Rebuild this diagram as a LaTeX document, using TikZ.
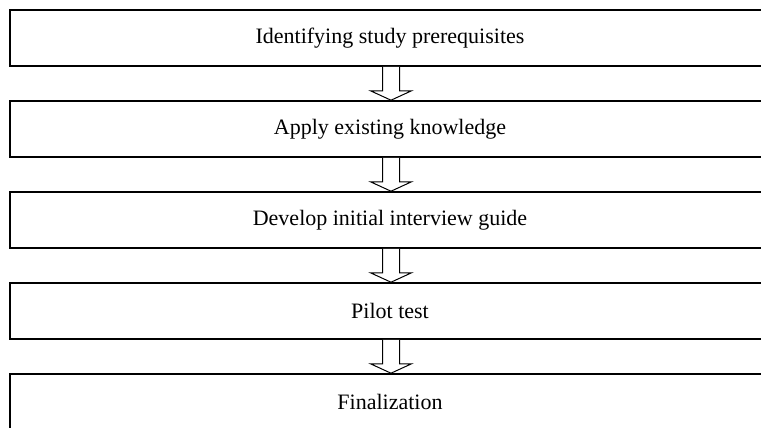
\documentclass[tikz,border=0pt]{standalone}
\usepackage{fontspec}
\setmainfont{Liberation Serif}
\usetikzlibrary{calc}

\begin{document}
\begin{tikzpicture}[x=1pt,y=-1pt,every node/.style={font=\fontsize{22}{26}\selectfont},stage/.style={rectangle,draw=black,line width=1.6pt,minimum width=760pt,minimum height=56pt,inner sep=0pt},blockarrow/.style={draw=black,fill=white,line width=1pt,line join=miter}]
  \useasboundingbox (0,0) rectangle (761,428);
  \begin{scope}
  \clip (0,0) rectangle (761,428);
  \node[stage] (s1) at (390,38) {Identifying study prerequisites};
  \node[stage] (s2) at (390,129) {Apply existing knowledge};
  \node[stage] (s3) at (390,220) {Develop initial interview guide};
  \node[stage] (s4) at (390,311) {Pilot test};
  \node[stage] (s5) at (390,402) {Finalization};
  \end{scope}
  \foreach \a/\b in {s1/s2,s2/s3,s3/s4,s4/s5}{
    \draw[blockarrow] ($(\a.south)+(-7.5,0)$) -- ($(\a.south)+(-7.5,24)$) -- ($(\a.south)+(-19.5,24)$) -- ($(\b.north)+(1,0)$) -- ($(\a.south)+(21.5,24)$) -- ($(\a.south)+(9.5,24)$) -- ($(\a.south)+(9.5,0)$);
  }
\end{tikzpicture}
\end{document}
